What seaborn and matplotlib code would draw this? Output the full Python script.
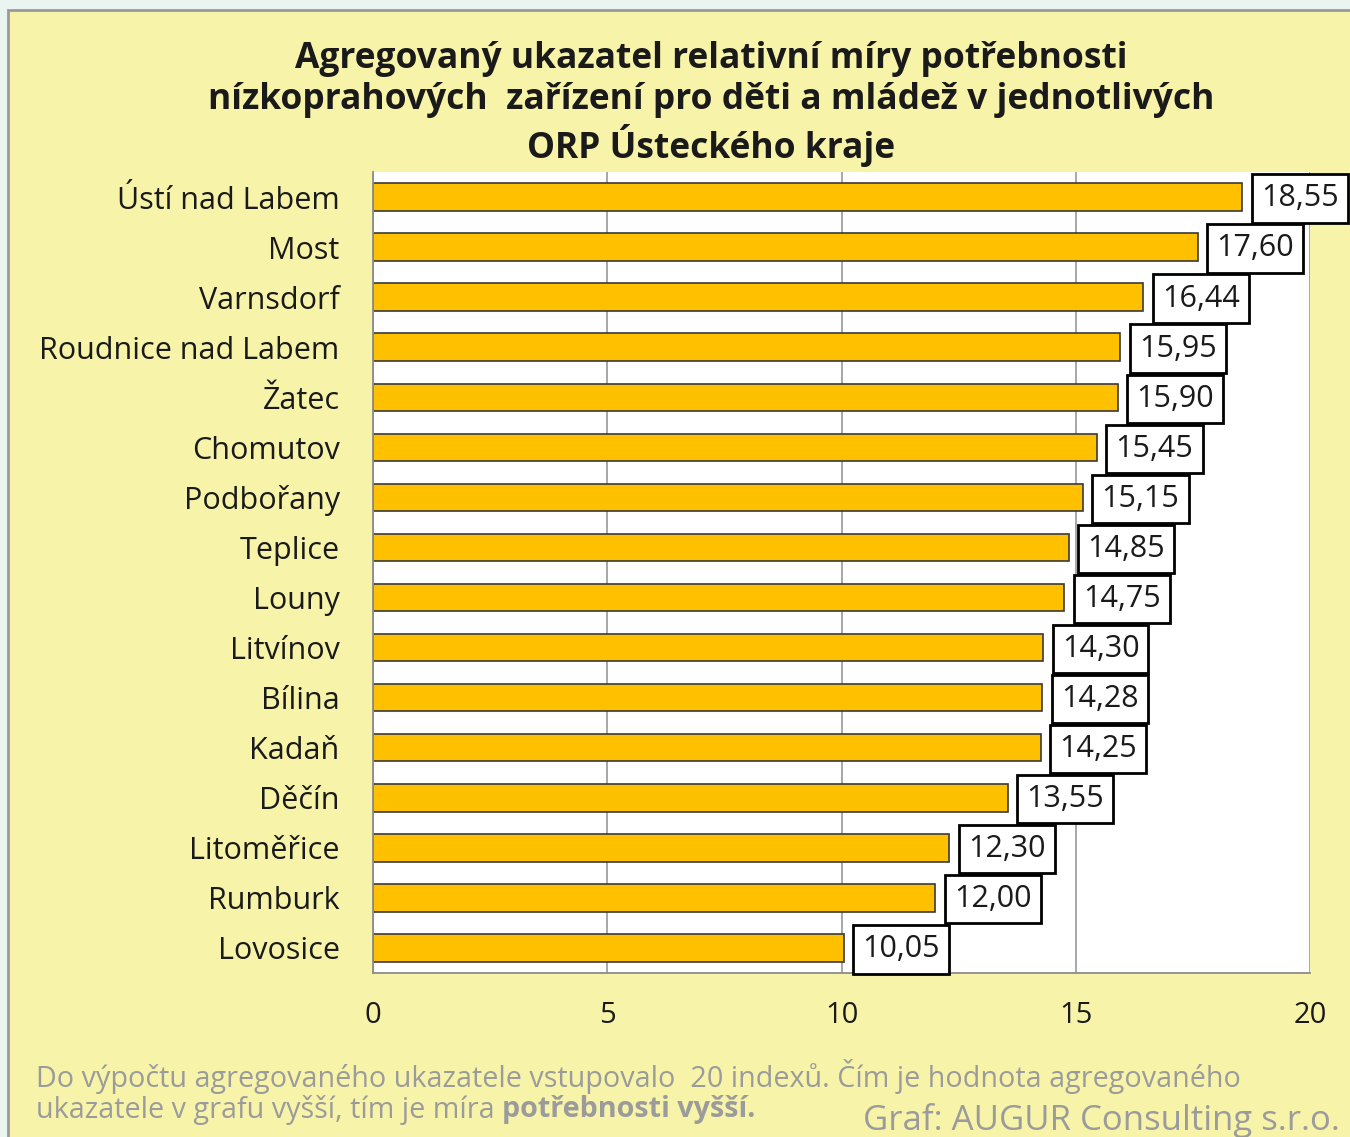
import matplotlib
matplotlib.use("Agg")
import matplotlib.pyplot as plt
from matplotlib.patches import Rectangle
import pandas as pd
import seaborn as sns

# data
towns = ["Ústí nad Labem", "Most", "Varnsdorf", "Roudnice nad Labem", "Žatec",
         "Chomutov", "Podbořany", "Teplice", "Louny", "Litvínov", "Bílina",
         "Kadaň", "Děčín", "Litoměřice", "Rumburk", "Lovosice"]
values = [18.55, 17.60, 16.44, 15.95, 15.90, 15.45, 15.15, 14.85, 14.75,
          14.30, 14.28, 14.25, 13.55, 12.30, 12.00, 10.05]
x_ticks = [0, 5, 10, 15, 20]

title = ("Agregovaný ukazatel relativní míry potřebnosti\n"
         "nízkoprahových  zařízení pro děti a mládež v jednotlivých\n"
         "ORP Ústeckého kraje")
note_1 = "Do výpočtu agregovaného ukazatele vstupovalo  20 indexů. Čím je hodnota agregovaného"
note_2 = "ukazatele v grafu vyšší, tím je míra "
note_2b = "potřebnosti vyšší."
credit = "Graf: AUGUR Consulting s.r.o."

df = pd.DataFrame({"town": towns, "value": values})

sns.set_style("white")
plt.rcParams['font.family'] = ['Open Sans', 'DejaVu Sans']

panel = "#F7F4AA"
fig = plt.figure(figsize=(13.5, 11.37), dpi=100, facecolor="#EAF4F1")
fig.patches.append(Rectangle((8 / 1350, -0.01), 1.0, 1.01 - 10 / 1137,
                             transform=fig.transFigure, facecolor=panel,
                             edgecolor="#9A9A9A", linewidth=2, zorder=-10))

ax = fig.add_axes([373 / 1350, 1 - 973 / 1137, 937 / 1350, 801 / 1137])
ax.set_facecolor("white")

sns.barplot(data=df, x="value", y="town", orient="h", color="#FFC000",
            edgecolor="#3A3A3A", linewidth=1.2, width=0.55, saturation=1, ax=ax)

ax.set_xlim(0, 20)
ax.set_ylim(len(towns) - 0.5, -0.5)
ax.set_xticks(x_ticks)
ax.set_xticklabels([str(t) for t in x_ticks])
ax.xaxis.grid(True, color="#A0A0A0", linewidth=1.3)
ax.set_axisbelow(True)
ax.set_xlabel("")
ax.set_ylabel("")

for s in ["top", "right"]:
    ax.spines[s].set_visible(False)
for s in ["left", "bottom"]:
    ax.spines[s].set_color("#8C8C8C")
    ax.spines[s].set_linewidth(1.3)

ax.tick_params(axis="x", length=12, width=1.3, color="#8C8C8C", direction="out",
               labelsize=21, pad=8, labelcolor="#1A1A1A")
ax.tick_params(axis="y", which="major", length=0, labelsize=22, pad=24,
               labelcolor="#1A1A1A")
ax.set_yticks([i + 0.5 for i in range(-1, len(towns))], minor=True)
ax.tick_params(axis="y", which="minor", length=12, width=1.3, color="#8C8C8C")

for i, v in enumerate(values):
    ax.annotate(f"{v:.2f}".replace(".", ","), xy=(v, i), xytext=(13.5, -1),
                textcoords="offset points", va="center", ha="left",
                fontsize=22, color="#1A1A1A", clip_on=False,
                bbox=dict(boxstyle="square,pad=0.3", fc="white", ec="black", lw=2))

fig.text(0.527, 1 - 41 / 1137, title, ha="center", va="top", fontsize=25.5,
         fontweight="bold", linespacing=1.18, color="#1A1A1A")

grey = "#9B9B9B"
fig.text(36 / 1350, 1 - 1077 / 1137, note_1, ha="left", va="center",
         fontsize=20.7, color=grey)
t = fig.text(36 / 1350, 1 - 1110 / 1137, note_2, ha="left", va="center",
             fontsize=20.7, color=grey)
fig.canvas.draw()
bb = t.get_window_extent()
fig.text(bb.x1 / fig.bbox.width, 1 - 1110 / 1137, note_2b, ha="left",
         va="center", fontsize=20.7, color=grey, fontweight="bold")
fig.text(1340 / 1350, 1 - 1120 / 1137, credit, ha="right", va="center",
         fontsize=25, color=grey)

fig.savefig("out.png", dpi=100, facecolor=fig.get_facecolor())
